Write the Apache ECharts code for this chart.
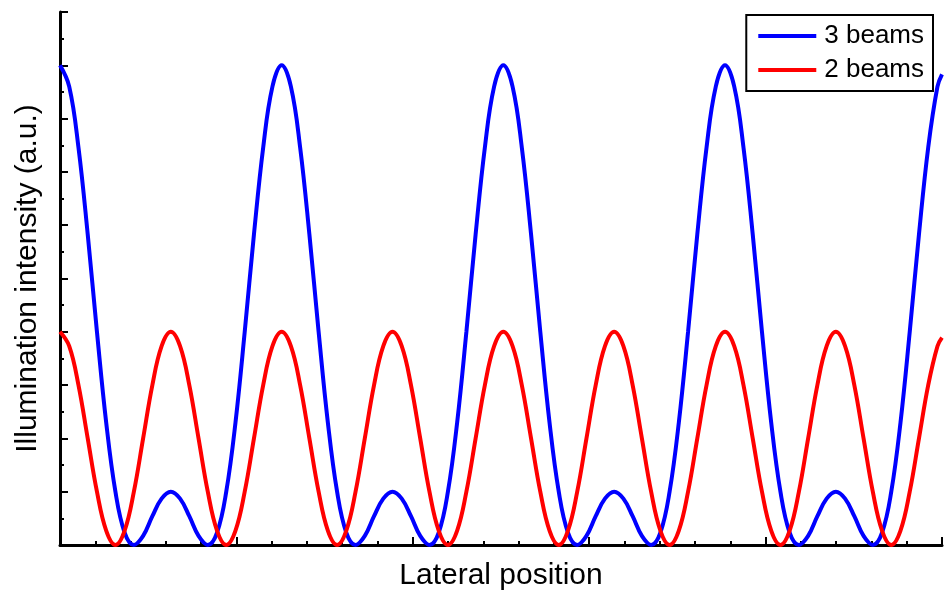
<!DOCTYPE html>
<html>
<head>
<meta charset="utf-8">
<script src="https://cdn.jsdelivr.net/npm/echarts@6/dist/echarts.min.js"></script>
<style>
  html, body { margin: 0; padding: 0; background: #fff; }
  #chart { width: 944px; height: 590px; }
</style>
</head>
<body>
<div id="chart"></div>
<script>
// Intensity samples, taken every 1/24 of the three-beam period along the lateral axis.
const sampleStep = 0.05236;
const xEnd = 5;

const threeBeams = [
  9, 8.6, 7.46, 5.83, 4, 2.3, 1, 0.23, 0, 0.17, 0.54, 0.87,
  1, 0.87, 0.54, 0.17, 0, 0.23, 1, 2.3, 4, 5.83, 7.46, 8.6,
  9, 8.6, 7.46, 5.83, 4, 2.3, 1, 0.23, 0, 0.17, 0.54, 0.87,
  1, 0.87, 0.54, 0.17, 0, 0.23, 1, 2.3, 4, 5.83, 7.46, 8.6,
  9, 8.6, 7.46, 5.83, 4, 2.3, 1, 0.23, 0, 0.17, 0.54, 0.87,
  1, 0.87, 0.54, 0.17, 0, 0.23, 1, 2.3, 4, 5.83, 7.46, 8.6,
  9, 8.6, 7.46, 5.83, 4, 2.3, 1, 0.23, 0, 0.17, 0.54, 0.87,
  1, 0.87, 0.54, 0.17, 0, 0.23, 1, 2.3, 4, 5.83, 7.46, 8.6
];
const threeBeamsAtEnd = 8.83;

const twoBeams = [
  4, 3.73, 3, 2, 1, 0.27, 0, 0.27, 1, 2, 3, 3.73,
  4, 3.73, 3, 2, 1, 0.27, 0, 0.27, 1, 2, 3, 3.73,
  4, 3.73, 3, 2, 1, 0.27, 0, 0.27, 1, 2, 3, 3.73,
  4, 3.73, 3, 2, 1, 0.27, 0, 0.27, 1, 2, 3, 3.73,
  4, 3.73, 3, 2, 1, 0.27, 0, 0.27, 1, 2, 3, 3.73,
  4, 3.73, 3, 2, 1, 0.27, 0, 0.27, 1, 2, 3, 3.73,
  4, 3.73, 3, 2, 1, 0.27, 0, 0.27, 1, 2, 3, 3.73,
  4, 3.73, 3, 2, 1, 0.27, 0, 0.27, 1, 2, 3, 3.73
];
const twoBeamsAtEnd = 3.89;

const seriesNames = ['3 beams', '2 beams'];
const xTitle = 'Lateral position';
const yTitle = 'Illumination intensity (a.u.)';

function toPoints(values, endValue) {
  const pts = values.map((v, i) => [i * sampleStep, v]);
  pts.push([xEnd, endValue]);
  return pts;
}

const font = 'Liberation Sans, Arial, sans-serif';
const chart = echarts.init(document.getElementById('chart'), null, { renderer: 'canvas' });

const axisCommon = {
  axisLine: { show: true, onZero: false, lineStyle: { color: '#000', width: 3 } },
  axisTick: { show: true, inside: true, length: 8, lineStyle: { color: '#000', width: 2 } },
  minorTick: { show: true, length: 4, lineStyle: { color: '#000', width: 2 } },
  axisLabel: { show: false },
  splitLine: { show: false },
  minorSplitLine: { show: false },
  nameLocation: 'middle',
  nameTextStyle: { color: '#000', fontSize: 30, fontFamily: font }
};

chart.setOption({
  animation: false,
  backgroundColor: '#fff',
  grid: { left: 60, right: 2, top: 12, bottom: 45, containLabel: false, outerBoundsMode: 'none' },
  xAxis: Object.assign({}, axisCommon, {
    type: 'value', min: 0, max: xEnd, interval: 1,
    minorTick: Object.assign({}, axisCommon.minorTick, { splitNumber: 5 }),
    name: xTitle, nameGap: 16
  }),
  yAxis: Object.assign({}, axisCommon, {
    type: 'value', min: 0, max: 10, interval: 1,
    minorTick: Object.assign({}, axisCommon.minorTick, { splitNumber: 2 }),
    name: yTitle, nameGap: 17
  }),
  legend: {
    right: 11, top: 15,
    orient: 'vertical',
    backgroundColor: '#fff',
    borderColor: '#000', borderWidth: 2,
    padding: [7, 9, 7, 12],
    itemGap: 6,
    itemWidth: 58, itemHeight: 4,
    icon: 'rect',
    textStyle: { color: '#000', fontSize: 26, lineHeight: 28, fontFamily: font, padding: [0, 0, 0, 3] },
    data: seriesNames
  },
  series: [
    {
      name: seriesNames[0], type: 'line', smooth: 0.4, showSymbol: false,
      color: '#0000ff', lineStyle: { width: 4, color: '#0000ff' },
      data: toPoints(threeBeams, threeBeamsAtEnd), z: 2
    },
    {
      name: seriesNames[1], type: 'line', smooth: 0.4, showSymbol: false,
      color: '#ff0000', lineStyle: { width: 4, color: '#ff0000' },
      data: toPoints(twoBeams, twoBeamsAtEnd), z: 3
    }
  ]
});
</script>
</body>
</html>
